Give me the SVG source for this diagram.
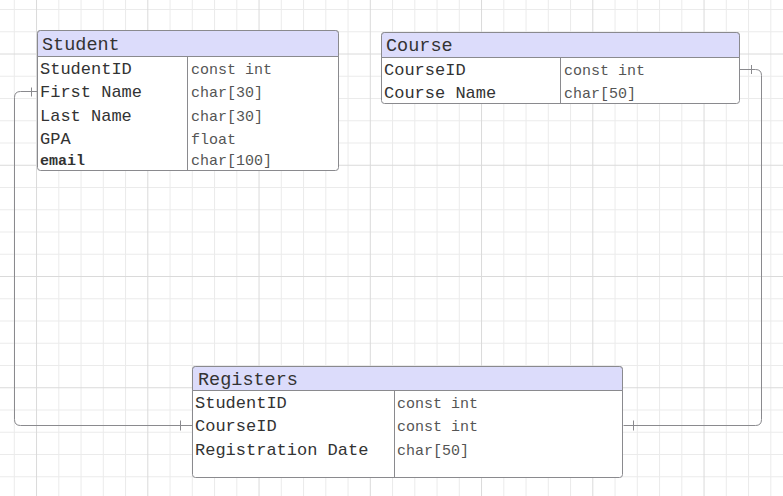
<svg xmlns="http://www.w3.org/2000/svg" width="783" height="496" viewBox="0 0 783 496">
<style>
.minor{stroke:#ebebeb;stroke-width:1;fill:none}
.major{stroke:#dadada;stroke-width:1;fill:none}
.box{fill:#ffffff;stroke:#8a8a8e;stroke-width:1}
.hdr{fill:#dcdcfb;stroke:#8a8a8e;stroke-width:1}
.div{stroke:#8a8a8e;stroke-width:1;fill:none}
.title{font-family:"Liberation Mono","DejaVu Sans Mono",monospace;font-size:18.5px;fill:#333333}
.name{font-family:"Liberation Mono","DejaVu Sans Mono",monospace;font-size:17px;fill:#333333}
.type{font-family:"Liberation Mono","DejaVu Sans Mono",monospace;font-size:15px;fill:#555555}
.conn{stroke:#8a8a8e;stroke-width:1;fill:none}
</style>
<rect width="783" height="496" fill="#ffffff"/>
<g id="grid">
<path class="minor" d="M14.3 0V496M58.8 0V496M81.05 0V496M103.3 0V496M125.55 0V496M170.05 0V496M192.3 0V496M214.55 0V496M236.8 0V496M281.3 0V496M303.55 0V496M325.8 0V496M348.05 0V496M392.55 0V496M414.8 0V496M437.05 0V496M459.3 0V496M503.8 0V496M526.05 0V496M548.3 0V496M570.55 0V496M615.05 0V496M637.3 0V496M659.55 0V496M681.8 0V496M726.3 0V496M748.55 0V496M770.8 0V496M0 9.5H783M0 31.75H783M0 76.25H783M0 98.5H783M0 120.75H783M0 143H783M0 187.5H783M0 209.75H783M0 232H783M0 254.25H783M0 298.75H783M0 321H783M0 343.25H783M0 365.5H783M0 410H783M0 432.25H783M0 454.5H783M0 476.75H783"/>
<path class="major" d="M36.55 0V496M147.8 0V496M259.05 0V496M370.3 0V496M481.55 0V496M592.8 0V496M704.05 0V496M0 54H783M0 165.25H783M0 276.5H783M0 387.75H783"/>
</g>
<g id="connectors">
<path class="conn" d="M37.5 91.5H20.5Q14.5 91.5 14.5 97.5V419.5Q14.5 425.5 20.5 425.5H192.5"/>
<path class="conn" d="M31.5 87.5V96.5M180.5 420.5V430.5"/>
<path class="conn" d="M739.5 69.5H755.5Q761.5 69.5 761.5 75.5V419.5Q761.5 425.5 755.5 425.5H623.5"/>
<path class="conn" d="M751.5 65V74M633.5 420.5V430.5"/>
</g>
<g id="student">
<rect class="box" x="37.5" y="30.5" width="301" height="140" rx="3"/>
<path class="hdr" d="M37.5 56.5V33.5Q37.5 30.5 40.5 30.5H335.5Q338.5 30.5 338.5 33.5V56.5Z"/>
<path class="div" d="M187.5 56.5V170.5"/>
<text class="title" x="42" y="50">Student</text>
<text class="name" x="40" y="74">StudentID</text>
<text class="name" x="40" y="97">First Name</text>
<text class="name" x="40" y="121">Last Name</text>
<text class="name" x="40" y="144">GPA</text>
<text class="name" x="40" y="165" style="font-size:15px;font-weight:bold">email</text>
<text class="type" x="191" y="74">const int</text>
<text class="type" x="191" y="97">char[30]</text>
<text class="type" x="191" y="121">char[30]</text>
<text class="type" x="191" y="144">float</text>
<text class="type" x="191" y="165">char[100]</text>
</g>
<g id="course">
<rect class="box" x="381.5" y="32.5" width="358" height="71" rx="3"/>
<path class="hdr" d="M381.5 57.5V35.5Q381.5 32.5 384.5 32.5H736.5Q739.5 32.5 739.5 35.5V57.5Z"/>
<path class="div" d="M560.5 57.5V103.5"/>
<text class="title" x="386" y="51">Course</text>
<text class="name" x="384" y="75">CourseID</text>
<text class="name" x="384" y="98">Course Name</text>
<text class="type" x="564" y="75">const int</text>
<text class="type" x="564" y="98">char[50]</text>
</g>
<g id="registers">
<rect class="box" x="192.5" y="366.5" width="430" height="111" rx="3"/>
<path class="hdr" d="M192.5 390.5V369.5Q192.5 366.5 195.5 366.5H619.5Q622.5 366.5 622.5 369.5V390.5Z"/>
<path class="div" d="M394.5 390.5V477.5"/>
<text class="title" x="198" y="385">Registers</text>
<text class="name" x="195" y="408">StudentID</text>
<text class="name" x="195" y="431">CourseID</text>
<text class="name" x="195" y="455">Registration Date</text>
<text class="type" x="397" y="408">const int</text>
<text class="type" x="397" y="431">const int</text>
<text class="type" x="397" y="455">char[50]</text>
</g>
</svg>
